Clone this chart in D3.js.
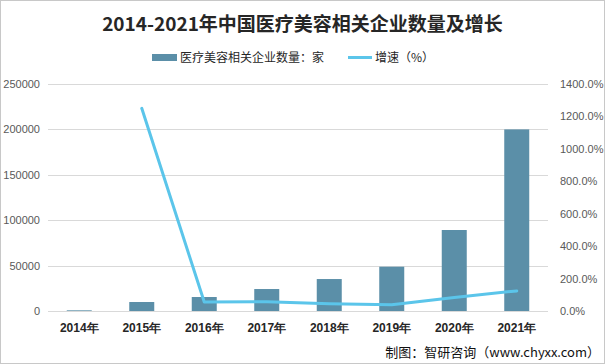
<!DOCTYPE html>
<html><head><meta charset="utf-8">
<script src="https://cdn.jsdelivr.net/npm/d3@7"></script>
<style>
html,body{margin:0;padding:0;background:#fff;}
svg{display:block;font-family:"Noto Sans CJK SC","Noto Sans",sans-serif;}
</style></head><body>
<script>
const years = ["2014年","2015年","2016年","2017年","2018年","2019年","2020年","2021年"];
const companies = [740, 9900, 15400, 24200, 35200, 48800, 89200, 200000];
const growth = [null, 1250, 55, 57, 45, 38, 83, 124];
const leftTicks = [0, 50000, 100000, 150000, 200000, 250000];
const rightTicks = [0, 200, 400, 600, 800, 1000, 1200, 1400];

const W = 605, H = 364;
const m = {left: 48, right: 57, top: 84, bottom: 53};
const svg = d3.select("body").append("svg").attr("width", W).attr("height", H);
svg.append("rect").attr("x",0.5).attr("y",0.5).attr("width",W-1).attr("height",H-1)
  .attr("fill","#fff").attr("stroke","#c8c8c8");

const x = d3.scaleBand().domain(years).range([m.left, W - m.right]).paddingInner(0.6).paddingOuter(0.3);
const yL = d3.scaleLinear().domain([0, 250000]).range([H - m.bottom, m.top]);
const yR = d3.scaleLinear().domain([0, 1400]).range([H - m.bottom, m.top]);

// gridlines
svg.append("g").selectAll("line").data(leftTicks).join("line")
  .attr("x1", m.left).attr("x2", W - m.right)
  .attr("y1", d => Math.round(yL(d)) + 0.5).attr("y2", d => Math.round(yL(d)) + 0.5)
  .attr("stroke", "#d9d9d9").attr("stroke-width", 1);

// left axis
const axL = svg.append("g").attr("transform", `translate(${m.left - 8},0)`)
  .call(d3.axisLeft(yL).tickValues(leftTicks).tickSize(0).tickPadding(0).tickFormat(d3.format("d")));
axL.select(".domain").remove();
axL.selectAll("text").attr("fill", "#595959").attr("font-size", 11).attr("font-family", "'Liberation Sans',Arial,sans-serif");

// right axis
const axR = svg.append("g").attr("transform", `translate(${W - m.right + 12},0)`)
  .call(d3.axisRight(yR).tickValues(rightTicks).tickSize(0).tickPadding(0).tickFormat(d => d.toFixed(1) + "%"));
axR.select(".domain").remove();
axR.selectAll("text").attr("fill", "#595959").attr("font-size", 11).attr("font-family", "'Liberation Sans',Arial,sans-serif");

// bars
svg.append("g").selectAll("rect").data(companies).join("rect")
  .attr("x", (d, i) => x(years[i])).attr("width", x.bandwidth())
  .attr("y", d => yL(d)).attr("height", d => yL(0) - yL(d))
  .attr("fill", "#5b8fa8");

// line
const pts = growth.map((g, i) => ({g, i})).filter(p => p.g !== null);
svg.append("path").datum(pts)
  .attr("fill", "none").attr("stroke", "#5bc5ea").attr("stroke-width", 3)
  .attr("stroke-linejoin", "round").attr("stroke-linecap", "round")
  .attr("d", d3.line().x(p => x(years[p.i]) + x.bandwidth() / 2).y(p => yR(p.g)));

// x axis labels
const axX = svg.append("g").attr("transform", `translate(0,${H - m.bottom + 6})`)
  .call(d3.axisBottom(x).tickSize(0).tickPadding(6));
axX.select(".domain").remove();
axX.selectAll("text").attr("fill", "#262626").attr("font-size", 12).attr("font-weight", "bold");

// title
svg.append("text").attr("x", W / 2).attr("y", 31).attr("text-anchor", "middle")
  .attr("font-size", 19).attr("font-weight", "bold").attr("fill", "#262626")
  .text("2014-2021年中国医疗美容相关企业数量及增长");

// legend
const lg = svg.append("g").attr("font-size", 12).attr("fill", "#262626");
lg.append("rect").attr("x", 152).attr("y", 54).attr("width", 25).attr("height", 7).attr("fill", "#5b8fa8");
lg.append("text").attr("x", 180).attr("y", 62).attr("fill", "#262626").text("医疗美容相关企业数量：家");
lg.append("line").attr("x1", 348).attr("x2", 372).attr("y1", 57.5).attr("y2", 57.5).attr("stroke", "#5bc5ea").attr("stroke-width", 3);
lg.append("text").attr("x", 375).attr("y", 62).attr("fill", "#262626").text("增速（%）");

// source
svg.append("text").attr("x", 600).attr("y", 357).attr("text-anchor", "end")
  .attr("font-size", 13).attr("fill", "#111").text("制图：智研咨询（www.chyxx.com）");
</script>
</body></html>
